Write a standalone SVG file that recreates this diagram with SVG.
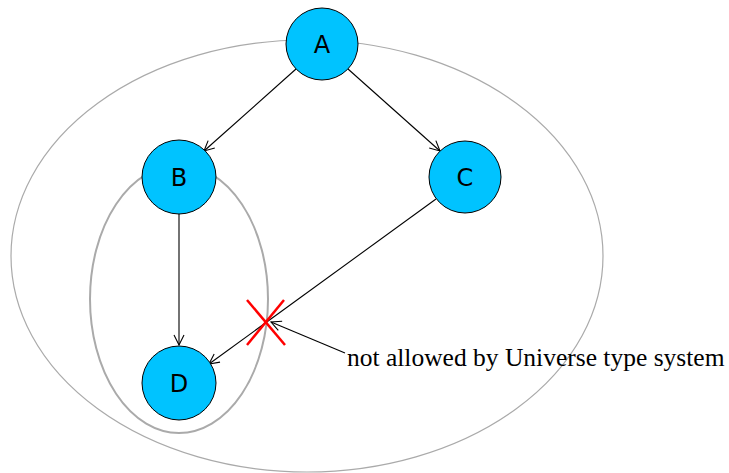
<svg xmlns="http://www.w3.org/2000/svg" width="729" height="473" viewBox="0 0 729 473">
<style>
.node{fill:#00c3ff;stroke:#000;stroke-width:1}
.lbl{font-family:"DejaVu Sans",sans-serif;font-size:24px;text-anchor:middle;fill:#000}
.edge{stroke:#000;stroke-width:1.1;fill:none;marker-end:url(#arr)}
.grp{fill:none;stroke:#aaa}
</style>
<defs>
<marker id="arr" viewBox="0 0 12 12" refX="11" refY="6" markerWidth="12" markerHeight="12" markerUnits="userSpaceOnUse" orient="auto">
<path d="M1,1 L11,6 L1,11" fill="none" stroke="#000" stroke-width="1.1"/>
</marker>
</defs>
<g id="groups">
<ellipse class="grp" cx="307" cy="256" rx="296" ry="216" stroke-width="1.2"/>
<ellipse class="grp" cx="179" cy="299" rx="89" ry="134" stroke-width="2"/>
</g>
<g id="connectors">
<line class="edge" x1="296" y1="69" x2="204" y2="151"/>
<line class="edge" x1="348" y1="69" x2="440" y2="151"/>
<line class="edge" x1="179" y1="214" x2="179" y2="345"/>
<line class="edge" x1="436" y1="199" x2="209" y2="364"/>
<line class="edge" x1="345" y1="353" x2="271" y2="322"/>
</g>
<g id="cross" stroke="#ff0000" stroke-width="2.5">
<line x1="247" y1="300" x2="285" y2="345"/>
<line x1="284" y1="300" x2="247" y2="345"/>
</g>
<g id="A"><circle class="node" cx="322" cy="44" r="36"/><text class="lbl" x="322" y="53">A</text></g>
<g id="B"><circle class="node" cx="179" cy="177" r="37"/><text class="lbl" x="179" y="186">B</text></g>
<g id="C"><circle class="node" cx="465" cy="177" r="36"/><text class="lbl" x="465" y="186">C</text></g>
<g id="D"><circle class="node" cx="179" cy="383" r="37"/><text class="lbl" x="179" y="392">D</text></g>
<text x="347" y="366" font-family="Liberation Serif, serif" font-size="25.5" fill="#000">not allowed by Universe type system</text>
</svg>
